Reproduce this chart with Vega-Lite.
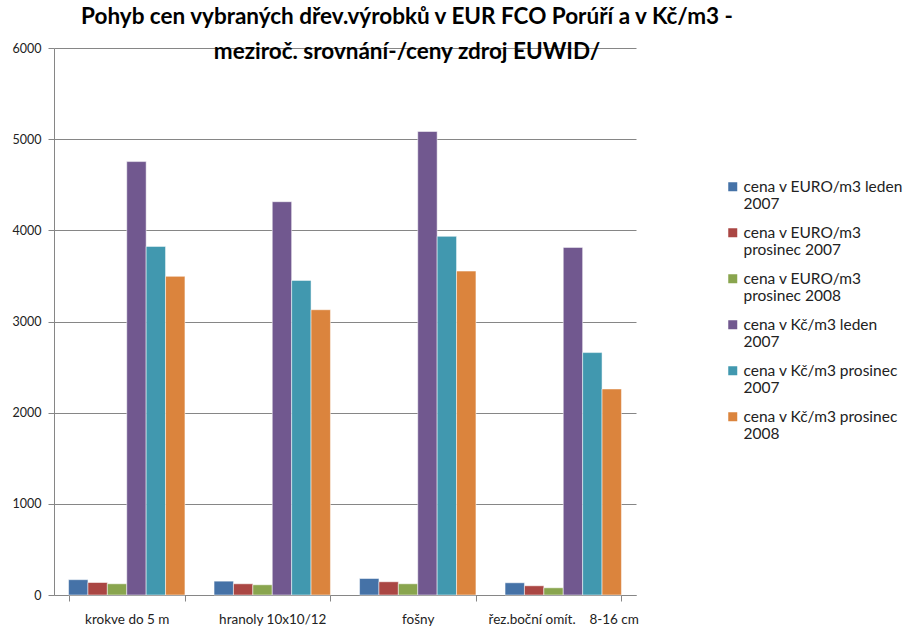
{
  "$schema": "https://vega.github.io/schema/vega-lite/v6.json",
  "width": 582,
  "height": 547,
  "autosize": {"type": "none"},
  "padding": {"left": 54, "top": 48, "right": 268, "bottom": 32},
  "background": "white",
  "config": {"font": "Lato", "view": {"stroke": null}},
  "title": {
    "text": ["Pohyb cen vybraných dřev.výrobků v EUR FCO Porúří a v Kč/m3 -", "meziroč. srovnání-/ceny zdroj EUWID/"],
    "fontSize": 22.5,
    "fontWeight": "bold",
    "color": "#000000",
    "lineHeight": 35,
    "anchor": "middle",
    "frame": "group",
    "baseline": "alphabetic",
    "dx": 62,
    "offset": -39
  },
  "data": {
    "values": [
      {"kategorie": "krokve do 5 m", "serie": "cena v EURO/m3 leden|2007", "hodnota": 168},
      {"kategorie": "krokve do 5 m", "serie": "cena v EURO/m3|prosinec 2007", "hodnota": 137},
      {"kategorie": "krokve do 5 m", "serie": "cena v EURO/m3|prosinec 2008", "hodnota": 123},
      {"kategorie": "krokve do 5 m", "serie": "cena v Kč/m3 leden|2007", "hodnota": 4754},
      {"kategorie": "krokve do 5 m", "serie": "cena v Kč/m3 prosinec|2007", "hodnota": 3824},
      {"kategorie": "krokve do 5 m", "serie": "cena v Kč/m3 prosinec|2008", "hodnota": 3495},
      {"kategorie": "hranoly 10x10/12", "serie": "cena v EURO/m3 leden|2007", "hodnota": 152},
      {"kategorie": "hranoly 10x10/12", "serie": "cena v EURO/m3|prosinec 2007", "hodnota": 123},
      {"kategorie": "hranoly 10x10/12", "serie": "cena v EURO/m3|prosinec 2008", "hodnota": 112},
      {"kategorie": "hranoly 10x10/12", "serie": "cena v Kč/m3 leden|2007", "hodnota": 4314},
      {"kategorie": "hranoly 10x10/12", "serie": "cena v Kč/m3 prosinec|2007", "hodnota": 3451},
      {"kategorie": "hranoly 10x10/12", "serie": "cena v Kč/m3 prosinec|2008", "hodnota": 3129},
      {"kategorie": "fošny", "serie": "cena v EURO/m3 leden|2007", "hodnota": 181},
      {"kategorie": "fošny", "serie": "cena v EURO/m3|prosinec 2007", "hodnota": 145},
      {"kategorie": "fošny", "serie": "cena v EURO/m3|prosinec 2008", "hodnota": 123},
      {"kategorie": "fošny", "serie": "cena v Kč/m3 leden|2007", "hodnota": 5084},
      {"kategorie": "fošny", "serie": "cena v Kč/m3 prosinec|2007", "hodnota": 3934},
      {"kategorie": "fošny", "serie": "cena v Kč/m3 prosinec|2008", "hodnota": 3553},
      {"kategorie": "řez.boční omít.\u00a0\u00a0\u00a0 8-16 cm", "serie": "cena v EURO/m3 leden|2007", "hodnota": 134},
      {"kategorie": "řez.boční omít.\u00a0\u00a0\u00a0 8-16 cm", "serie": "cena v EURO/m3|prosinec 2007", "hodnota": 101},
      {"kategorie": "řez.boční omít.\u00a0\u00a0\u00a0 8-16 cm", "serie": "cena v EURO/m3|prosinec 2008", "hodnota": 79},
      {"kategorie": "řez.boční omít.\u00a0\u00a0\u00a0 8-16 cm", "serie": "cena v Kč/m3 leden|2007", "hodnota": 3813},
      {"kategorie": "řez.boční omít.\u00a0\u00a0\u00a0 8-16 cm", "serie": "cena v Kč/m3 prosinec|2007", "hodnota": 2659},
      {"kategorie": "řez.boční omít.\u00a0\u00a0\u00a0 8-16 cm", "serie": "cena v Kč/m3 prosinec|2008", "hodnota": 2260}
    ]
  },
  "mark": {"type": "bar", "stroke": "white", "strokeWidth": 1, "strokeOpacity": 0.5},
  "encoding": {
    "x": {
      "field": "kategorie",
      "type": "nominal",
      "sort": null,
      "scale": {"paddingInner": 0.2, "paddingOuter": 0.1},
      "axis": {
        "title": null,
        "labelAngle": 0,
        "labelFontSize": 13.5,
        "labelColor": "#222222",
        "labelPadding": 11,
        "domainColor": "#868686",
        "tickColor": "#868686",
        "tickSize": 6,
        "tickBand": "extent",
        "labelLimit": 300
      }
    },
    "xOffset": {
      "field": "serie",
      "type": "nominal",
      "sort": null,
      "scale": {"paddingInner": 0, "paddingOuter": 0}
    },
    "y": {
      "field": "hodnota",
      "type": "quantitative",
      "scale": {"domain": [0, 6000], "nice": false},
      "axis": {
        "title": null,
        "values": [0, 1000, 2000, 3000, 4000, 5000, 6000],
        "format": "d",
        "grid": true,
        "gridColor": "#868686",
        "gridWidth": 1,
        "domainColor": "#868686",
        "tickColor": "#868686",
        "tickSize": 6,
        "labelFontSize": 12.5,
        "labelColor": "#222222",
        "labelPadding": 7
      }
    },
    "color": {
      "field": "serie",
      "type": "nominal",
      "sort": null,
      "scale": {"range": ["#4572A7", "#AA4643", "#89A54E", "#71588F", "#4198AF", "#DB843D"]},
      "legend": {
        "title": null,
        "orient": "none",
        "legendX": 671,
        "legendY": 131,
        "symbolType": "square",
        "symbolSize": 81,
        "symbolStrokeWidth": 0,
        "labelFontSize": 15.5,
        "labelColor": "#222222",
        "labelOffset": 3,
        "labelExpr": "split(datum.label, '|')",
        "labelLimit": 300,
        "rowPadding": 12,
        "encode": {
          "labels": {"enter": {"lineHeight": {"value": 18}, "dy": {"value": 9}}}
        }
      }
    }
  }
}
